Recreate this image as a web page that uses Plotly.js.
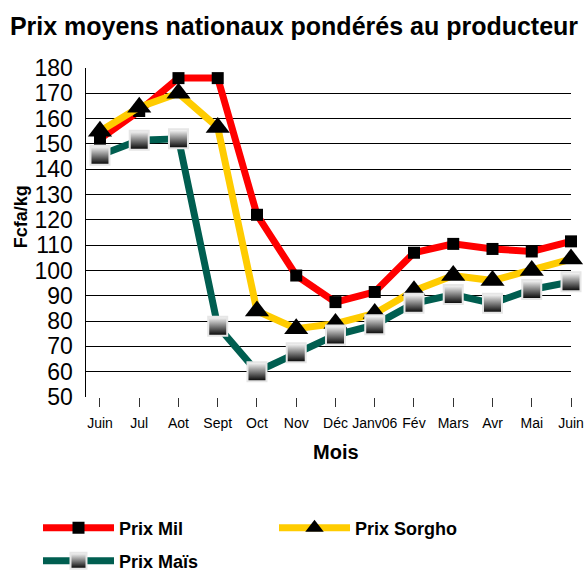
<!DOCTYPE html>
<html>
<head>
<meta charset="utf-8">
<script src="https://cdn.plot.ly/plotly-3.0.1.min.js"></script>
<style>html,body{margin:0;padding:0;background:#fff;}#chart{width:588px;height:571px;}</style>
</head>
<body>
<div id="chart"></div>
<script>
// ---- data ----
const months = ['Juin', 'Jul', 'Aot', 'Sept', 'Oct', 'Nov', 'Déc', 'Janv06', 'Fév', 'Mars', 'Avr', 'Mai', 'Juin'];
const prixMil = [152, 163, 176, 176, 122, 98, 87.5, 91.5, 107, 110.5, 108.5, 107.5, 111.5];
const prixSorgho = [155, 164.5, 170, 156.5, 84, 77, 79, 83, 92, 98, 96, 100, 104.5];
const prixMais = [145.5, 151.5, 152, 78, 60, 67.5, 74.5, 78.5, 87, 90.5, 87, 92.5, 95.5];
const yTicks = [50, 60, 70, 80, 90, 100, 110, 120, 130, 140, 150, 160, 170, 180];

const xIdx = months.map((_, i) => i);
const gridIdx = xIdx.filter(i => i % 2 === 0);
const FONT = 'Liberation Sans';

const traces = [
  {
    name: 'Prix Mil', x: xIdx, y: prixMil, type: 'scatter', mode: 'lines+markers',
    line: {color: '#FF0000', width: 7}, cliponaxis: false,
    marker: {symbol: 'square', size: 12, color: '#000000'},
    legend: 'legend'
  },
  {
    name: 'Prix Sorgho', x: xIdx, y: prixSorgho, type: 'scatter', mode: 'lines+markers',
    line: {color: '#FFCC00', width: 7}, cliponaxis: false,
    marker: {symbol: 'triangle-up', size: 21, color: '#000000'},
    legend: 'legend'
  },
  {
    name: 'Prix Maïs', x: xIdx, y: prixMais, type: 'scatter', mode: 'lines+markers',
    line: {color: '#005E50', width: 7}, cliponaxis: false,
    marker: {symbol: 'square', size: 19, color: '#FFFFFF',
      gradient: {type: 'vertical', color: '#000000'},
      line: {color: '#E6E6E6', width: 2}},
    legend: 'legend2'
  }
];

const layout = {
  width: 588, height: 571,
  margin: {l: 86, r: 17, t: 68, b: 174},
  paper_bgcolor: '#FFFFFF', plot_bgcolor: '#FFFFFF',
  font: {family: FONT, color: '#000000'},
  showlegend: true,
  title: {
    text: 'Prix moyens nationaux pondérés au producteur',
    font: {family: FONT, size: 25, weight: 'bold', color: '#000'},
    x: 0.5, xanchor: 'center', y: 1 - 26 / 571, yanchor: 'middle'
  },
  xaxis: {
    range: [-0.356, 12], tickmode: 'array', tickvals: xIdx, ticktext: months,
    showgrid: false, zeroline: false, showline: false,
    ticks: 'outside', ticklen: 9, tickcolor: '#333', tickwidth: 1,
    ticklabelstandoff: 4,
    tickfont: {family: FONT, size: 14, color: '#000'}
  },
  xaxis2: {
    overlaying: 'x', anchor: 'y', range: [-0.356, 12], tickmode: 'array', tickvals: gridIdx,
    showticklabels: false, ticks: '', showgrid: true, gridcolor: '#7A7A7A', gridwidth: 1.5,
    zeroline: false, showline: false
  },
  yaxis: {
    range: [50, 180], tickmode: 'array', tickvals: yTicks,
    showgrid: true, gridcolor: '#000000', gridwidth: 1, zeroline: false,
    showline: true, linecolor: '#000000', linewidth: 1.5,
    ticks: '', ticklabelstandoff: 7,
    tickfont: {family: FONT, size: 23, color: '#000'}
  },
  legend: {
    orientation: 'h', xref: 'container', yref: 'container',
    x: 38 / 588, xanchor: 'left', y: 1 - 528 / 571, yanchor: 'middle',
    itemwidth: 71, entrywidth: 150, traceorder: 'normal',
    bgcolor: 'rgba(0,0,0,0)',
    font: {family: FONT, size: 18, weight: 'bold', color: '#000'}
  },
  legend2: {
    orientation: 'h', xref: 'container', yref: 'container',
    x: 38 / 588, xanchor: 'left', y: 1 - 561 / 571, yanchor: 'middle',
    itemwidth: 71, bgcolor: 'rgba(0,0,0,0)',
    font: {family: FONT, size: 18, weight: 'bold', color: '#000'}
  },
  annotations: [
    {text: 'Fcfa/kg', xref: 'paper', yref: 'paper', x: (21 - 86) / 485.5, y: (396.7 - 217) / 329,
     xanchor: 'center', yanchor: 'middle', textangle: -90, showarrow: false,
     font: {family: FONT, size: 18, weight: 'bold', color: '#000'}},
    {text: 'Mois', xref: 'paper', yref: 'paper', x: (336 - 86) / 485.5, y: (396.7 - 452) / 329,
     xanchor: 'center', yanchor: 'middle', showarrow: false,
     font: {family: FONT, size: 20, weight: 'bold', color: '#000'}}
  ]
};

Plotly.newPlot('chart', traces, layout, {displayModeBar: false, staticPlot: true});
</script>
</body>
</html>
